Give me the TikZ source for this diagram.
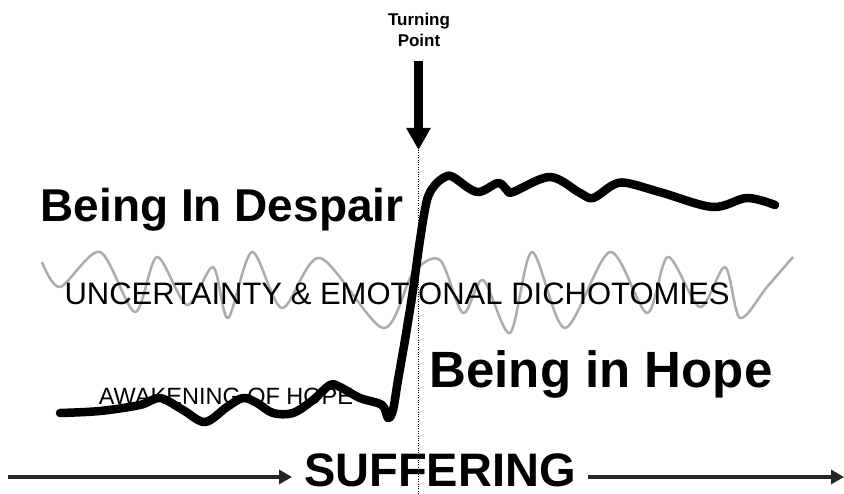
\documentclass[tikz,border=0pt]{standalone}
\usepackage{fontspec}
\setmainfont{Liberation Sans}
\usetikzlibrary{arrows.meta}
\tikzset{
  bigbold/.style={font=\fontsize{#1}{#1}\selectfont\bfseries, inner sep=0pt, anchor=base},
  plain/.style={font=\fontsize{#1}{#1}\selectfont, inner sep=0pt, anchor=base},
  timeline/.style={-{Triangle[width=14pt, length=13pt]}, line width=4pt, black!85},
}

\begin{document}
\begin{tikzpicture}[x=1pt, y=-1pt]
  \useasboundingbox (0,0) rectangle (844,494);
  % turning point
  \node[font=\fontsize{17}{21}\selectfont\bfseries, align=center, inner sep=0pt] (turn) at (419,30) {Turning\\Point};
  \coordinate (tip) at (418.5,150);
  \coordinate (floor) at (418.5,494);
  \draw[-{Triangle[width=23pt, length=22pt]}, line width=9pt, shorten <=14pt] (turn.south -| tip) -- (tip);
  \draw[dotted, thin] (tip) -- (floor);
  % uncertainty wave
  \draw[gray!65, line width=2.5pt, line join=round] plot[smooth, tension=0.5] coordinates {
    (42,262) (60,287) (100,252) (135,312) (157,257) (187,305) (213,267) (228,318)
    (252,252) (282,308) (320,258) (383,328) (413,273) (440,260) (463,313) (483,280)
    (510,333) (532,252) (565,328) (610,252) (647,313) (668,257) (700,307) (725,267)
    (740,318) (767,287) (793,257)};
  % labels
  \node[bigbold=46] (despair) at (222,222) {Being In Despair};
  \node[plain=31] (doubt) at (397,305) {UNCERTAINTY \& EMOTIONAL DICHOTOMIES};
  \node[bigbold=51] (hope) at (601,388) {Being in Hope};
  \node[plain=23.5] (awake) at (226,405) {AWAKENING OF HOPE};
  % life curve
  \draw[line width=8.5pt, line cap=round, line join=round] plot[smooth, tension=0.55] coordinates {
    (60,413) (100,411) (140,405) (160,398) (183,410) (205,422)
    (227,407) (243,398) (257,403) (273,413) (293,413) (313,400) (330,385) (340,387)
    (360,398) (382,405) (388,418) (393,410) (398,380) (405,340) (413,290) (420,240)
    (427,200) (435,185) (445,177) (453,177) (477,192) (498,183) (507,190) (513,192)
    (550,177) (580,193) (593,198) (613,185) (627,183) (663,193) (713,207) (747,198)
    (775,205)};
  % suffering timeline
  \node[bigbold=47, inner xsep=12pt] (suffer) at (440,486) {SUFFERING};
  \coordinate (start) at (8,477);
  \coordinate (finish) at (844,477);
  \draw[timeline] (start) -- (suffer.west |- start);
  \draw[timeline] (suffer.east |- finish) -- (finish);
\end{tikzpicture}
\end{document}
